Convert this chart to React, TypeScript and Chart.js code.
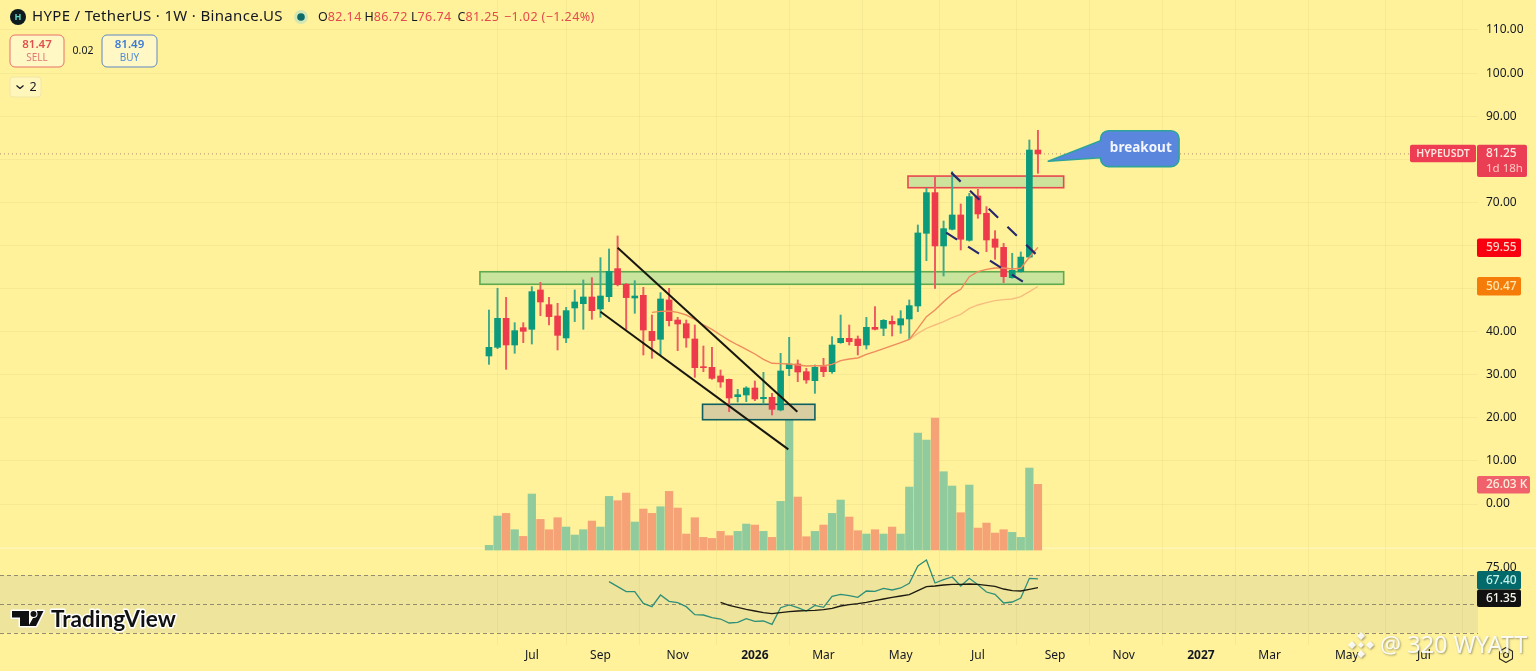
import React, { useEffect, useRef } from "react";
import { Chart, registerables } from "chart.js";

Chart.register(...registerables);

const opens = [34.35,36.36,43.09,36.9,40.92,40.54,49.67,46.26,43.63,38.53,45.49,46.49,48.04,45.26,48.12,54.62,50.98,47.81,48.43,40.07,38.22,47.35,42.7,41.85,38.29,31.87,31.72,29.71,28.93,24.91,25.3,26.92,24.45,24.75,21.82,31.41,32.49,30.71,28.62,31.87,30.71,37.44,38.45,38.29,36.9,41.0,40.77,42.39,41.54,42.94,45.95,62.82,72.26,59.88,63.75,67.07,61.19,71.48,67.46,61.5,59.57,52.53,53.92,57.3,82.14];
const highs = [45.02,50.05,47.96,42.08,42.08,50.44,51.44,47.96,46.57,45.64,49.67,51.99,52.53,57.17,59.18,62.2,51.2,51.83,50.28,43.86,49.05,50.05,43.32,42.7,41.54,36.67,36.36,31.1,29.0,26.61,27.23,28.55,30.56,25.68,34.97,38.68,33.42,31.49,32.26,33.81,38.84,43.86,41.54,38.99,43.32,45.8,42.8,43.63,44.87,47.35,64.75,73.26,75.97,65.68,77.13,69.63,72.1,73.03,69.01,63.44,60.5,58.18,58.49,84.48,86.72];
const lows = [32.41,36.05,31.25,34.97,37.44,37.13,43.71,41.54,35.74,37.44,42.32,40.54,42.86,43.32,46.96,50.6,40.54,44.25,34.58,33.81,34.58,41.31,35.59,36.36,29.4,30.71,28.93,27.08,21.43,23.67,23.75,23.98,23.21,20.66,21.6,29.78,28.39,28.01,25.68,29.55,30.33,37.29,36.9,34.58,35.97,40.4,39.07,38.99,39.61,38.29,44.64,56.47,50.05,52.92,63.6,58.95,61.0,66.3,58.56,56.78,51.37,52.4,53.8,57.1,76.74];
const closes = [36.36,43.09,36.9,40.23,40.07,49.28,46.88,43.48,39.14,44.87,46.88,48.04,44.87,48.27,54.0,50.9,47.89,48.27,40.38,37.91,47.58,42.55,41.77,38.53,31.64,31.64,29.16,28.31,24.6,25.37,26.92,24.37,24.75,21.97,30.87,32.49,30.63,28.78,31.72,30.71,36.9,38.45,37.67,36.75,41.0,40.54,42.63,41.77,43.0,46.03,62.9,72.26,59.88,63.9,67.07,61.43,71.33,67.3,61.27,59.57,52.76,54.23,57.3,82.14,81.25];
const volumesK = [1.85,13.46,14.52,8.05,5.41,22.18,12.14,8.05,12.8,9.11,5.94,8.05,11.48,9.11,21.25,19.54,22.57,11.09,16.24,14.52,17.16,23.23,16.63,6.34,12.8,5.02,4.62,7.39,5.68,7.39,10.3,9.9,7.39,5.02,19.27,54.65,20.99,5.28,7.39,9.9,14.52,19.8,13.07,7.66,6.34,8.05,6.34,9.11,6.34,24.95,46.33,43.56,52.27,31.02,25.34,14.78,25.74,8.71,10.69,6.73,8.05,7.0,5.02,32.47,26.03];
const maFastStart = 19;
const maFast = [44.48,44.71,44.79,44.48,43.86,42.86,41.54,40.54,39.22,37.98,36.9,35.9,34.81,33.57,32.65,32.57,32.49,32.26,32.03,32.1,32.1,32.41,33.27,33.65,33.88,34.74,35.36,36.05,36.75,37.44,38.22,40.77,43.48,45.02,46.96,48.66,49.82,52.76,53.92,54.46,54.77,54.77,54.54,54.7,57.25,59.55];
const maSlowStart = 49;
const maSlow = [38.22,39.61,40.77,41.54,42.32,43.25,44.02,45.41,46.19,46.73,47.19,47.42,47.58,48.12,49.28,50.47];
const rsiStart = 14;
const rsi = [65.51,62.04,58.56,58.56,50.46,48.15,56.25,51.85,50.93,48.15,42.59,42.36,40.51,39.58,36.8,37.27,39.81,37.96,38.19,35.88,47.45,49.31,47.45,45.14,49.07,47.69,55.32,56.71,55.79,54.63,59.03,58.8,60.88,59.72,61.11,64.35,76.39,80.56,64.58,66.9,68.75,62.5,67.82,63.43,58.33,56.71,50.69,51.39,54.17,67.82,67.4];
const rsiMaStart = 27;
const rsiMa = [51.16,49.07,47.69,46.3,45.14,43.98,43.29,43.98,44.68,45.14,45.37,45.6,46.06,46.99,48.61,49.54,50.23,51.16,52.31,53.47,54.63,55.56,56.48,59.26,62.04,62.5,63.19,63.66,63.66,63.89,63.66,62.96,62.27,60.42,59.26,59.03,60.18,61.35];

const priceTicks = [0,10,20,30,40,50,60,70,80,90,100,110];
const timeTickIndex = [5,13,22,31,39,48,57,66,74,83,91,100,109];
const timeTickLabels = ["Jul","Sep","Nov","2026","Mar","May","Jul","Sep","Nov","2027","Mar","May","Jul"];
const rsiBands = [70,50,30];
const rsiAxisLabels = [75,50];
const lastPrice = 81.25;

// [index start, index end, price top, price bottom]
const greenZone = [-1.05,67,53.9,50.99];
const resistanceZone = [48.85,67,76.1,73.4];
const baseZone = [24.9,38,23.14,19.56];
// [index, price, index, price]
const channelUpper = [15,59.48,35.95,21.43];
const channelLower = [13,44.63,34.9,12.69];
const flagUpper = [53.9,76.9,63.85,57.8];
const flagLower = [53.3,62.97,62.55,51.2];
// [index left, index right, price top, price bottom, tail index, tail price]
const breakoutCallout = [71.3,80.45,86.63,78.3,65.2,79.53];

const FONT = "'Noto Sans', sans-serif";
const BG = "#FFF29B";
const UP = "#0B9A7C";
const DOWN = "#EE3B4C";
const INK = "#131722";

const seg = (a: number[]) => [{ x: a[0], y: a[1] }, { x: a[2], y: a[3] }];
const from = (arr: number[], start: number) => arr.map((y, i) => ({ x: i + start, y }));

function roundBox(ctx: CanvasRenderingContext2D, x: number, y: number, w: number, h: number, r: number, fill: string | null, stroke?: string, lw = 1) {
  ctx.beginPath();
  ctx.roundRect(x, y, w, h, r);
  if (fill) { ctx.fillStyle = fill; ctx.fill(); }
  if (stroke) { ctx.strokeStyle = stroke; ctx.lineWidth = lw; ctx.stroke(); }
}
function text(ctx: CanvasRenderingContext2D, s: string, x: number, y: number, color: string, font: string, align: CanvasTextAlign = "left", spacing = "0px") {
  ctx.font = font;
  ctx.fillStyle = color;
  ctx.textAlign = align;
  ctx.textBaseline = "middle";
  (ctx as any).letterSpacing = spacing;
  ctx.fillText(s, x, y);
  (ctx as any).letterSpacing = "0px";
}

const backgroundPlugin = {
  id: "panes",
  beforeDraw(chart: any) {
    const { ctx, width, height, scales } = chart;
    ctx.save();
    ctx.fillStyle = BG;
    ctx.fillRect(0, 0, width, height);
    const r = scales.yRsi;
    const right = scales.x.right;
    ctx.fillStyle = "#EFE49C";
    ctx.fillRect(0, r.getPixelForValue(rsiBands[0]), right, r.getPixelForValue(rsiBands[2]) - r.getPixelForValue(rsiBands[0]));
    ctx.fillStyle = "#FFF6B8";
    ctx.fillRect(0, 547.5, width, 1.5);
    ctx.restore();
  },
  beforeDatasetsDraw(chart: any) {
    const { ctx, scales } = chart;
    const r = scales.yRsi;
    ctx.save();
    ctx.strokeStyle = "#948C70";
    ctx.lineWidth = 1;
    ctx.setLineDash([4, 3]);
    rsiBands.forEach((b) => {
      const y = Math.round(r.getPixelForValue(b)) + 0.5;
      ctx.beginPath();
      ctx.moveTo(0, y);
      ctx.lineTo(scales.x.right, y);
      ctx.stroke();
    });
    ctx.restore();
  },
  afterDatasetDraw(chart: any, args: any) {
    if (args.index !== 0) return;
    const { ctx, scales } = chart;
    const zone = (z: number[], fill: string, stroke: string) => {
      const x0 = scales.x.getPixelForValue(z[0]);
      const x1 = scales.x.getPixelForValue(z[1]);
      const y0 = scales.y.getPixelForValue(z[2]);
      const y1 = scales.y.getPixelForValue(z[3]);
      ctx.fillStyle = fill;
      ctx.fillRect(x0, y0, x1 - x0, y1 - y0);
      ctx.strokeStyle = stroke;
      ctx.lineWidth = 1.6;
      ctx.strokeRect(x0, y0, x1 - x0, y1 - y0);
    };
    ctx.save();
    zone(greenZone, "#C9E49C", "#5FA94F");
    zone(resistanceZone, "#CDE29B", "#E8474F");
    zone(baseZone, "#D8CEA1", "#0F5F60");
    ctx.restore();
  },
};

const overlayPlugin = {
  id: "overlay",
  afterDraw(chart: any) {
    const { ctx, scales } = chart;
    ctx.save();
    // breakout callout: one outline made of the rounded box and its tail
    const c = breakoutCallout;
    const L = scales.x.getPixelForValue(c[0]);
    const R = scales.x.getPixelForValue(c[1]);
    const T = scales.y.getPixelForValue(c[2]);
    const B = scales.y.getPixelForValue(c[3]);
    const tx = scales.x.getPixelForValue(c[4]);
    const ty = scales.y.getPixelForValue(c[5]);
    const rad = 8;
    ctx.beginPath();
    ctx.moveTo(tx, ty);
    ctx.lineTo(L, T + 10);
    ctx.lineTo(L, T + rad);
    ctx.arcTo(L, T, L + rad, T, rad);
    ctx.lineTo(R - rad, T);
    ctx.arcTo(R, T, R, T + rad, rad);
    ctx.lineTo(R, B - rad);
    ctx.arcTo(R, B, R - rad, B, rad);
    ctx.lineTo(L + rad, B);
    ctx.arcTo(L, B, L, B - rad, rad);
    ctx.lineTo(L, T + 27);
    ctx.closePath();
    ctx.fillStyle = "#5B86DE";
    ctx.fill();
    ctx.strokeStyle = "#2FA39B";
    ctx.lineWidth = 1.6;
    ctx.lineJoin = "round";
    ctx.stroke();
    text(ctx, "breakout", (L + R) / 2 + 1, (T + B) / 2 - 0.5, "#F4F6FF", `700 13.5px ${FONT}`, "center");

    // header
    ctx.beginPath();
    ctx.arc(18, 17, 8, 0, Math.PI * 2);
    ctx.fillStyle = "#0E1B1E";
    ctx.fill();
    text(ctx, "H", 18, 17, "#5FD6C0", `700 9px ${FONT}`, "center");
    text(ctx, "HYPE / TetherUS · 1W · Binance.US", 32, 17, INK, `400 15px ${FONT}`, "left", "0.33px");
    ctx.beginPath();
    ctx.arc(301, 17, 7, 0, Math.PI * 2);
    ctx.fillStyle = "#D3E6B5";
    ctx.fill();
    ctx.beginPath();
    ctx.arc(301, 17, 3.8, 0, Math.PI * 2);
    ctx.fillStyle = "#0A6B68";
    ctx.fill();
    const ohlc: [string, string][] = [["O", "82.14"], ["H", "86.72"], ["L", "76.74"], ["C", "81.25"]];
    const hf = `400 12.5px ${FONT}`;
    ohlc.forEach(([k, v], i) => {
      const hx = 318 + i * 46.5;
      ctx.font = hf;
      const kw = ctx.measureText(k).width;
      text(ctx, k, hx, 17, INK, hf);
      text(ctx, v, hx + kw, 17, "#E5484D", hf, "left", "0.4px");
    });
    text(ctx, "−1.02 (−1.24%)", 504, 17, "#E5484D", hf, "left", "0.4px");

    // buy / sell
    roundBox(ctx, 10, 35, 54, 32, 5, "#FFF7C4", "#E8706C", 1);
    text(ctx, "81.47", 37, 45, "#E0504E", `600 11.5px ${FONT}`, "center");
    text(ctx, "SELL", 37, 58, "#E07A76", `400 10px ${FONT}`, "center");
    text(ctx, "0.02", 83, 51, INK, `400 10.5px ${FONT}`, "center");
    roundBox(ctx, 102, 35, 55, 32, 5, "#FFF7C4", "#5F88C4", 1);
    text(ctx, "81.49", 129.5, 45, "#3B7BD6", `600 11.5px ${FONT}`, "center");
    text(ctx, "BUY", 129.5, 58, "#4F8BD8", `400 10px ${FONT}`, "center");
    roundBox(ctx, 10, 77, 31, 20, 3, "#FFF6BC", "#F1E6A6", 1);
    ctx.beginPath();
    ctx.moveTo(16.5, 85.5); ctx.lineTo(20, 88.5); ctx.lineTo(23.5, 85.5);
    ctx.strokeStyle = INK; ctx.lineWidth = 1.2; ctx.stroke();
    text(ctx, "2", 33, 87, INK, `400 12.5px ${FONT}`, "center");

    // right axis tags
    const tag = (x: number, y: number, w: number, h: number, fill: string) => roundBox(ctx, x, y, w, h, 2, fill);
    const big = `500 12px ${FONT}`;
    const rs = scales.yRsi;
    rsiAxisLabels.forEach((v) => text(ctx, v.toFixed(2), 1486, rs.getPixelForValue(v), INK, `400 12px ${FONT}`));
    tag(1410, 144.7, 66, 17.6, "#EE3C52");
    text(ctx, "HYPEUSDT", 1443, 154, "#FFE3DC", `600 10.5px ${FONT}`, "center");
    tag(1477, 144.7, 50, 32.3, "#EA3E54");
    text(ctx, "81.25", 1486, 154, "#FFE8E0", big);
    text(ctx, "1d 18h", 1486, 169, "#FFC9C2", `400 11.5px ${FONT}`);
    tag(1477, 238.5, 44, 18.5, "#F80010");
    text(ctx, "59.55", 1486, 248, "#FFD2C6", big);
    tag(1477, 277, 44, 18.5, "#F57C08");
    text(ctx, "50.47", 1486, 286.5, "#FFE6AE", big);
    tag(1477, 476, 53, 17.6, "#F0616C");
    text(ctx, "26.03 K", 1486, 485, "#FFEFDC", big);
    tag(1477, 571, 44, 18.5, "#03696B");
    text(ctx, "67.40", 1486, 580.5, "#C4F2E8", big);
    tag(1477, 589.5, 44, 17.5, "#111111");
    text(ctx, "61.35", 1486, 598.5, "#F3F3EC", big);

    // settings hexagon
    ctx.beginPath();
    for (let i = 0; i < 6; i++) {
      const a = Math.PI / 6 + (i * Math.PI) / 3;
      const hxp = 1506 + 7.5 * Math.cos(a);
      const hyp = 655 + 7.5 * Math.sin(a);
      if (i === 0) ctx.moveTo(hxp, hyp); else ctx.lineTo(hxp, hyp);
    }
    ctx.closePath();
    ctx.strokeStyle = "#2A2A22";
    ctx.lineWidth = 1.1;
    ctx.stroke();
    ctx.beginPath();
    ctx.arc(1506, 655, 2.5, 0, Math.PI * 2);
    ctx.stroke();

    // TradingView watermark
    ctx.lineJoin = "round";
    const logo = () => {
      ctx.beginPath();
      ctx.moveTo(12, 611); ctx.lineTo(29, 611); ctx.lineTo(29, 626); ctx.lineTo(20, 626); ctx.lineTo(20, 617.5); ctx.lineTo(12, 617.5); ctx.closePath();
      ctx.moveTo(37, 611); ctx.lineTo(43.5, 611); ctx.lineTo(36, 626); ctx.lineTo(28.5, 626); ctx.closePath();
    };
    logo();
    ctx.strokeStyle = "#FFFFFF"; ctx.lineWidth = 3; ctx.stroke();
    ctx.fillStyle = "#111"; ctx.fill();
    ctx.beginPath();
    ctx.arc(33.5, 614, 3, 0, Math.PI * 2);
    ctx.strokeStyle = "#FFFFFF"; ctx.lineWidth = 2; ctx.stroke();
    ctx.fillStyle = "#111"; ctx.fill();
    ctx.font = `700 22.6px Lato, ${FONT}`;
    ctx.textAlign = "left";
    ctx.textBaseline = "alphabetic";
    ctx.lineWidth = 3;
    ctx.strokeStyle = "#FFFFFF";
    ctx.strokeText("TradingView", 51, 626.5);
    ctx.fillStyle = "#111";
    ctx.fillText("TradingView", 51, 626.5);

    // author watermark
    ctx.shadowColor = "rgba(70,70,50,0.55)";
    ctx.shadowBlur = 2;
    ctx.shadowOffsetX = 1;
    ctx.shadowOffsetY = 1;
    ctx.fillStyle = "rgba(255,255,255,0.9)";
    const cx = 1361, cy = 645;
    ([[0, -9], [0, 9], [-9, 0], [9, 0], [0, 0]] as number[][]).forEach(([dx, dy], i) => {
      const s = i === 4 ? 3 : 4;
      ctx.beginPath();
      ctx.moveTo(cx + dx, cy + dy - s);
      ctx.lineTo(cx + dx + s, cy + dy);
      ctx.lineTo(cx + dx, cy + dy + s);
      ctx.lineTo(cx + dx - s, cy + dy);
      ctx.closePath();
      ctx.fill();
    });
    text(ctx, "@ 320 WYATT", 1380, 646, "rgba(255,255,255,0.9)", `400 23.5px ${FONT}`);
    ctx.restore();
  },
};

export default function App() {
  const ref = useRef<HTMLCanvasElement | null>(null);
  useEffect(() => {
    document.body.style.margin = "0";
    document.body.style.overflow = "hidden";
    const xs = opens.map((_, i) => i);
    const colors = xs.map((i) => (closes[i] >= opens[i] ? UP : DOWN));
    const wickColors = xs.map((i) => (closes[i] >= opens[i] ? "#3FA98B" : "#EE5A62"));
    const volColors = xs.map((i) => (closes[i] >= opens[i] ? "#90CB9D" : "#F6A277"));
    const line = (data: any[], color: string, width: number, yAxisID: string, order: number, dash?: number[]) => ({
      type: "line" as const,
      data,
      yAxisID,
      xAxisID: "x",
      borderColor: color,
      borderWidth: width,
      borderDash: dash || [],
      pointRadius: 0,
      tension: 0,
      fill: false,
      order,
    });
    const noPad = (s: any) => {
      s.paddingTop = 0;
      s.paddingBottom = 0;
      s.paddingLeft = 0;
      s.paddingRight = 0;
    };
    const chart = new Chart(ref.current as HTMLCanvasElement, {
      type: "bar",
      data: {
        datasets: [
          { label: "Volume", data: xs.map((i) => ({ x: i, y: volumesK[i] })), yAxisID: "yVol", xAxisID: "x", backgroundColor: volColors, barThickness: 7.6, grouped: false, order: 20 },
          { label: "Wick", data: xs.map((i) => ({ x: i, y: [lows[i], highs[i]] })), yAxisID: "y", xAxisID: "x", backgroundColor: wickColors, barThickness: 1.3, grouped: false, order: 15 },
          { label: "Body", data: xs.map((i) => ({ x: i, y: [opens[i], closes[i]] })), yAxisID: "y", xAxisID: "x", backgroundColor: colors, barThickness: 6, grouped: false, order: 14 },
          line(from(maSlow, maSlowStart), "#F6BE7E", 1.4, "y", 13),
          line(from(maFast, maFastStart), "#EE8A5C", 1.4, "y", 12),
          line(from(rsi, rsiStart), "#2E8F78", 1.3, "yRsi", 11),
          line(from(rsiMa, rsiMaStart), "#1C1A10", 1.3, "yRsi", 10),
          line(seg(channelUpper), "#17170F", 2, "y", 5),
          line(seg(channelLower), "#17170F", 2, "y", 5),
          line(seg(flagUpper), "#27276B", 2.2, "y", 4, [13, 13]),
          line(seg(flagLower), "#27276B", 2.2, "y", 4, [13, 13]),
          line([{ x: -57, y: lastPrice }, { x: 107.4, y: lastPrice }], "#B58A6A", 1, "y", 30, [1, 3]),
        ] as any,
      },
      options: {
        responsive: false,
        animation: false,
        devicePixelRatio: 1,
        layout: { padding: 0 },
        plugins: { legend: { display: false }, tooltip: { enabled: false } },
        scales: {
          x: {
            type: "linear",
            min: -57,
            max: 115.3,
            offset: false,
            border: { display: false },
            grid: { color: "rgba(130,130,60,0.07)", drawTicks: false },
            afterBuildTicks: (s: any) => { s.ticks = timeTickIndex.map((value) => ({ value })); },
            afterFit: (s: any) => { s.height = 26; noPad(s); },
            ticks: {
              autoSkip: false,
              maxRotation: 0,
              padding: 3,
              color: INK,
              font: (c: any) => {
                const l = timeTickLabels[timeTickIndex.indexOf(c.tick?.value)];
                return { family: "'Noto Sans', sans-serif", size: 12, weight: l === "2026" || l === "2027" ? 700 : 400 };
              },
              callback: (v: any) => timeTickLabels[timeTickIndex.indexOf(v)] ?? "",
            },
          },
          y: {
            type: "linear",
            position: "right",
            min: -32.72,
            max: 116.96,
            border: { display: false },
            grid: { color: "rgba(130,130,60,0.07)", drawTicks: false },
            afterBuildTicks: (s: any) => { s.ticks = priceTicks.map((value) => ({ value })); },
            afterFit: (s: any) => { s.width = 58; noPad(s); },
            ticks: {
              padding: 8,
              color: INK,
              font: { family: "'Noto Sans', sans-serif", size: 12 },
              callback: (v: any) => Number(v).toFixed(2),
            },
          },
          yVol: { type: "linear", display: false, min: -37.6, max: 217.8 },
          yRsi: { type: "linear", display: false, min: 21.53, max: 469.44 },
        },
      } as any,
      plugins: [backgroundPlugin, overlayPlugin],
    });
    return () => chart.destroy();
  }, []);
  return <canvas ref={ref} width={1536} height={671} style={{ display: "block" }} />;
}
